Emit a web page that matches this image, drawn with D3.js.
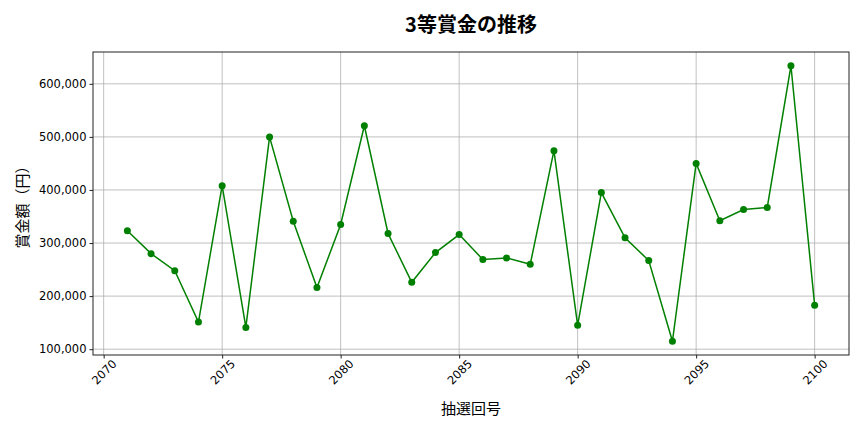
<!DOCTYPE html>
<html>
<head>
<meta charset="utf-8">
<script src="https://cdn.jsdelivr.net/npm/d3@7"></script>
<style>
  body { margin: 0; background: #fff; }
  text { font-family: "Noto Sans CJK JP", "Noto Sans", sans-serif; }
  .tick text { font-family: "DejaVu Sans", sans-serif; }
</style>
</head>
<body>
<div id="chart"></div>
<script>
// draw numbers and 3rd prize amounts
const draws = [2071, 2072, 2073, 2074, 2075, 2076, 2077, 2078, 2079, 2080,
               2081, 2082, 2083, 2084, 2085, 2086, 2087, 2088, 2089, 2090,
               2091, 2092, 2093, 2094, 2095, 2096, 2097, 2098, 2099, 2100];
const prizes = [323000, 280000, 248000, 151000, 408000, 141000, 500000, 341000, 216000, 335000,
                521000, 318000, 226000, 282000, 316000, 269000, 272000, 260000, 474000, 145000,
                395000, 310000, 267000, 115000, 450000, 342000, 363000, 367000, 634000, 183000];
const xTicks = [2070, 2075, 2080, 2085, 2090, 2095, 2100];
const yTicks = [100000, 200000, 300000, 400000, 500000, 600000];

let width = 864, height = 432;
let margin = {top: 52, right: 15, bottom: 77, left: 93};
let plotW = width - margin.left - margin.right;
let plotH = height - margin.top - margin.bottom;

let svg = d3.select("#chart").append("svg")
    .attr("width", width).attr("height", height);

let g = svg.append("g")
    .attr("transform", "translate(" + margin.left + "," + margin.top + ")");

// matplotlib-like 5% padding
let xMin = d3.min(draws), xMax = d3.max(draws);
let xPad = (xMax - xMin) * 0.05;
let x = d3.scaleLinear().domain([xMin - xPad, xMax + xPad]).range([0, plotW]);

let yMin = d3.min(prizes), yMax = d3.max(prizes);
let yPad = (yMax - yMin) * 0.05;
let y = d3.scaleLinear().domain([yMin - yPad, yMax + yPad]).range([plotH, 0]);

// grid
g.append("g").selectAll("line").data(xTicks).join("line")
    .attr("x1", d => x(d)).attr("x2", d => x(d))
    .attr("y1", 0).attr("y2", plotH)
    .attr("stroke", "#b0b0b0").attr("stroke-width", 0.8);
g.append("g").selectAll("line").data(yTicks).join("line")
    .attr("x1", 0).attr("x2", plotW)
    .attr("y1", d => y(d)).attr("y2", d => y(d))
    .attr("stroke", "#b0b0b0").attr("stroke-width", 0.8);

// axes
let xAxis = g.append("g")
    .attr("transform", "translate(0," + plotH + ")")
    .call(d3.axisBottom(x).tickValues(xTicks).tickFormat(d3.format("d")).tickSize(3.5).tickSizeOuter(0));
xAxis.select(".domain").remove();
xAxis.selectAll(".tick line").attr("stroke", "#222");
xAxis.selectAll("text")
    .attr("font-size", 11.5).attr("fill", "#000")
    .attr("text-anchor", "middle")
    .attr("x", 0).attr("y", 0).attr("dy", "0.35em")
    .attr("transform", "translate(0,17) rotate(-45)");

let yAxis = g.append("g")
    .call(d3.axisLeft(y).tickValues(yTicks).tickFormat(d3.format(",")).tickSize(3.5).tickSizeOuter(0));
yAxis.select(".domain").remove();
yAxis.selectAll(".tick line").attr("stroke", "#222");
yAxis.selectAll("text").attr("font-size", 11.5).attr("fill", "#000");

// frame
g.append("rect")
    .attr("width", plotW).attr("height", plotH)
    .attr("fill", "none").attr("stroke", "#222").attr("stroke-width", 1);

// line + points
let line = d3.line()
    .x((d, i) => x(draws[i]))
    .y(d => y(d));

g.append("path")
    .datum(prizes)
    .attr("d", line)
    .attr("fill", "none")
    .attr("stroke", "green")
    .attr("stroke-width", 1.5);

g.selectAll("circle.pt").data(prizes).join("circle")
    .attr("class", "pt")
    .attr("cx", (d, i) => x(draws[i]))
    .attr("cy", d => y(d))
    .attr("r", 3.5)
    .attr("fill", "green");

// titles
svg.append("text")
    .attr("x", margin.left + plotW / 2).attr("y", 32)
    .attr("text-anchor", "middle")
    .attr("font-size", 20).attr("font-weight", "bold")
    .text("3等賞金の推移");

svg.append("text")
    .attr("x", margin.left + plotW / 2).attr("y", 414)
    .attr("text-anchor", "middle")
    .attr("font-size", 15)
    .text("抽選回号");

svg.append("text")
    .attr("transform", "translate(28," + (margin.top + plotH / 2) + ") rotate(-90)")
    .attr("text-anchor", "middle")
    .attr("font-size", 15)
    .text("賞金額（円）");
</script>
</body>
</html>
